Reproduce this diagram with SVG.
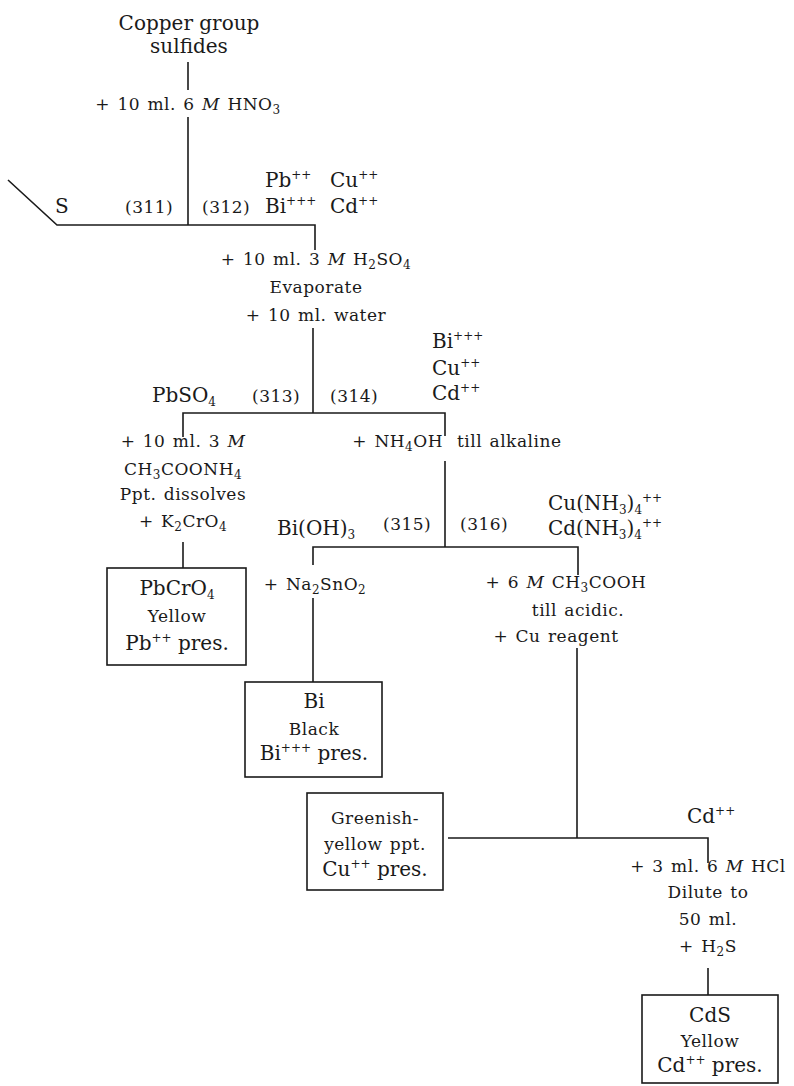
<svg xmlns="http://www.w3.org/2000/svg" width="794" height="1086" viewBox="0 0 794 1086">
<style>
text{font-family:"DejaVu Serif","Liberation Serif",serif;fill:#1a1a1a}
.L{font-size:20px}
.s{font-size:17px;letter-spacing:0.5px;word-spacing:1.5px}
.m{text-anchor:middle}
.e{text-anchor:end}
.sub{font-size:12px;baseline-shift:-4px}
.sup{font-size:12px;baseline-shift:8px}
.it{font-style:italic}
.ln{stroke:#1a1a1a;stroke-width:1.6;fill:none}
.box{stroke:#1a1a1a;stroke-width:1.6;fill:none}
</style>
<rect width="794" height="1086" fill="#fff"/>
<g id="connectors" class="ln">
<path d="M188 62V90"/>
<path d="M188 117V225"/>
<path d="M8 180L57 225H315V250"/>
<path d="M313 328V413"/>
<path d="M183 437V413H445V436"/>
<path d="M183 542V568"/>
<path d="M445 461V547"/>
<path d="M313 565V547H578V575"/>
<path d="M313 598V682"/>
<path d="M577 648V838"/>
<path d="M448 838H708V863"/>
<path d="M708 968V995"/>
</g>
<g id="start">
<text class="L m" x="189" y="30">Copper group</text>
<text class="L m" x="189" y="53">sulfides</text>
</g>
<g id="step-hno3">
<text class="s m" x="188" y="110">+ 10 ml. 6 <tspan class="it">M</tspan> HNO<tspan class="sub">3</tspan></text>
</g>
<g id="residue-311">
<text class="L" x="55" y="213">S</text>
<text class="s" x="125" y="213">(311)</text>
</g>
<g id="solution-312">
<text class="s" x="202" y="213">(312)</text>
<text class="L" x="265" y="187">Pb<tspan class="sup">++</tspan></text>
<text class="L" x="330" y="187">Cu<tspan class="sup">++</tspan></text>
<text class="L" x="265" y="213">Bi<tspan class="sup">+++</tspan></text>
<text class="L" x="330" y="213">Cd<tspan class="sup">++</tspan></text>
</g>
<g id="step-h2so4">
<text class="s m" x="316" y="265">+ 10 ml. 3 <tspan class="it">M</tspan> H<tspan class="sub">2</tspan>SO<tspan class="sub">4</tspan></text>
<text class="s m" x="316" y="293">Evaporate</text>
<text class="s m" x="316" y="321">+ 10 ml. water</text>
</g>
<g id="ppt-313">
<text class="L" x="152" y="402">PbSO<tspan class="sub">4</tspan></text>
<text class="s" x="252" y="402">(313)</text>
</g>
<g id="solution-314">
<text class="s" x="330" y="402">(314)</text>
<text class="L" x="432" y="348">Bi<tspan class="sup">+++</tspan></text>
<text class="L" x="432" y="375">Cu<tspan class="sup">++</tspan></text>
<text class="L" x="432" y="400">Cd<tspan class="sup">++</tspan></text>
</g>
<g id="step-acetate">
<text class="s m" x="183" y="447">+ 10 ml. 3 <tspan class="it">M</tspan></text>
<text class="s m" x="183" y="475">CH<tspan class="sub">3</tspan>COONH<tspan class="sub">4</tspan></text>
<text class="s m" x="183" y="500">Ppt. dissolves</text>
<text class="s m" x="183" y="527">+ K<tspan class="sub">2</tspan>CrO<tspan class="sub">4</tspan></text>
</g>
<g id="result-pb">
<rect class="box" x="107" y="568" width="139" height="97"/>
<text class="L m" x="177" y="595">PbCrO<tspan class="sub">4</tspan></text>
<text class="s m" x="177" y="622">Yellow</text>
<text class="L m" x="177" y="650">Pb<tspan class="sup">++</tspan> pres.</text>
</g>
<g id="step-nh4oh">
<text class="s e" x="443" y="447">+ NH<tspan class="sub">4</tspan>OH</text>
<text class="s" x="457" y="447">till alkaline</text>
</g>
<g id="ppt-315">
<text class="L" x="277" y="535">Bi(OH)<tspan class="sub">3</tspan></text>
<text class="s" x="383" y="530">(315)</text>
</g>
<g id="solution-316">
<text class="s" x="460" y="530">(316)</text>
<text class="L" x="548" y="510">Cu(NH<tspan class="sub">3</tspan>)<tspan class="sub">4</tspan><tspan class="sup">++</tspan></text>
<text class="L" x="548" y="535">Cd(NH<tspan class="sub">3</tspan>)<tspan class="sub">4</tspan><tspan class="sup">++</tspan></text>
</g>
<g id="step-stannite">
<text class="s m" x="315" y="590">+ Na<tspan class="sub">2</tspan>SnO<tspan class="sub">2</tspan></text>
</g>
<g id="result-bi">
<rect class="box" x="245" y="682" width="137" height="95"/>
<text class="L m" x="314" y="708">Bi</text>
<text class="s m" x="314" y="735">Black</text>
<text class="L m" x="314" y="760">Bi<tspan class="sup">+++</tspan> pres.</text>
</g>
<g id="step-cu-reagent">
<text class="s m" x="566" y="588">+ 6 <tspan class="it">M</tspan> CH<tspan class="sub">3</tspan>COOH</text>
<text class="s m" x="578" y="616">till acidic.</text>
<text class="s m" x="556" y="642">+ Cu reagent</text>
</g>
<g id="result-cu">
<rect class="box" x="307" y="793" width="136" height="97"/>
<text class="s m" x="375" y="824">Greenish-</text>
<text class="s m" x="375" y="850">yellow ppt.</text>
<text class="L m" x="375" y="876">Cu<tspan class="sup">++</tspan> pres.</text>
</g>
<g id="solution-cd">
<text class="L" x="687" y="823">Cd<tspan class="sup">++</tspan></text>
</g>
<g id="step-h2s">
<text class="s m" x="708" y="872">+ 3 ml. 6 <tspan class="it">M</tspan> HCl</text>
<text class="s m" x="708" y="898">Dilute to</text>
<text class="s m" x="708" y="925">50 ml.</text>
<text class="s m" x="708" y="952">+ H<tspan class="sub">2</tspan>S</text>
</g>
<g id="result-cd">
<rect class="box" x="642" y="995" width="136" height="88"/>
<text class="L m" x="710" y="1022">CdS</text>
<text class="s m" x="710" y="1047">Yellow</text>
<text class="L m" x="710" y="1072">Cd<tspan class="sup">++</tspan> pres.</text>
</g>
</svg>
